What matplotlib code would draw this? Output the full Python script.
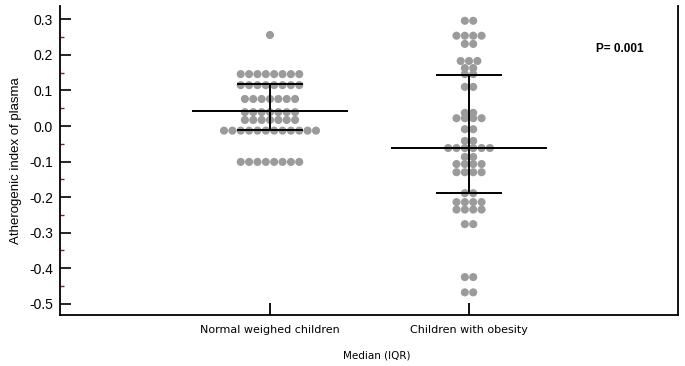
import numpy as np
import matplotlib
matplotlib.use("Agg")
import matplotlib.pyplot as plt
from matplotlib.ticker import MultipleLocator

groups = ["Normal weighed children", "Children with obesity"]

# values (one entry per child)
normal = ([0.256] + [0.146] * 8 + [0.115] * 8 + [0.076] * 7 + [0.039] * 7
          + [0.017] * 7 + [-0.013] * 12 + [-0.101] * 8)
obese = ([0.296] * 2 + [0.254] * 4 + [0.231] * 2 + [0.183] * 3 + [0.163] * 2
         + [0.146] * 2 + [0.110] * 2 + [0.037] * 2 + [0.022] * 4 + [-0.009] * 2
         + [-0.042] * 2 + [-0.062] * 6 + [-0.087] * 2 + [-0.107] * 4
         + [-0.130] * 4 + [-0.189] * 2 + [-0.214] * 4 + [-0.235] * 4
         + [-0.276] * 2 + [-0.425] * 2 + [-0.468] * 2)

medians = [0.042, -0.062]
q1 = [-0.011, -0.189]
q3 = [0.118, 0.144]
yticks = [-0.5, -0.4, -0.3, -0.2, -0.1, 0.0, 0.1, 0.2, 0.3]
p_text = "P= 0.001"

fig = plt.figure(figsize=(6.85, 3.66), dpi=100)
ax = fig.add_axes([0.0876, 0.139, 0.9022, 0.845])

step = 0.042  # horizontal gap between neighbouring dots
for i, vals in enumerate([normal, obese]):
    center = i + 1
    vals = np.array(vals)
    xs, ys = [], []
    for v in np.unique(vals):
        n = np.sum(vals == v)
        offs = (np.arange(n) - (n - 1) / 2) * step
        xs.extend(center + offs)
        ys.extend([v] * n)
    ax.scatter(xs, ys, s=34, color="#9b9b9b", edgecolors="none", zorder=2)

    # median and IQR
    ax.hlines(medians[i], center - 0.39, center + 0.39, color="black", lw=1.4, zorder=3)
    ax.hlines([q1[i], q3[i]], center - 0.165, center + 0.165, color="black", lw=1.4, zorder=3)
    ax.vlines(center, q1[i], q3[i], color="black", lw=1.4, zorder=3)

ax.text(2.64, 0.217, p_text, fontsize=8.5, fontweight="bold",
        family="Liberation Sans", va="center", ha="left")

ax.set_xlim(-0.055, 3.05)
ax.set_ylim(-0.532, 0.338)
ax.set_xticks([1, 2])
ax.set_xticklabels(groups, family="DejaVu Sans", fontsize=8)
ax.yaxis.set_minor_locator(MultipleLocator(0.05))
ax.set_yticks(yticks)
ax.set_yticklabels([f"{t:.1f}" for t in yticks], family="Liberation Sans", fontsize=10)

ax.tick_params(axis="y", which="major", direction="in", length=8, width=1.2, pad=5)
ax.tick_params(axis="y", which="minor", direction="in", length=3, width=1, color="#8b1c2c")
ax.tick_params(axis="x", which="major", direction="in", length=9, width=1.3, pad=7)

for s in ["left", "bottom", "right"]:
    ax.spines[s].set_linewidth(1.3)
ax.spines["top"].set_visible(False)

ax.set_ylabel("Atherogenic index of plasma", family="Liberation Sans", fontsize=9.5)
ax.yaxis.set_label_coords(-0.062, 0.5)
ax.set_xlabel("Median (IQR)", family="DejaVu Sans", fontsize=7.5)
ax.xaxis.set_label_coords(0.513, -0.115)

fig.savefig("out.png", dpi=100)
